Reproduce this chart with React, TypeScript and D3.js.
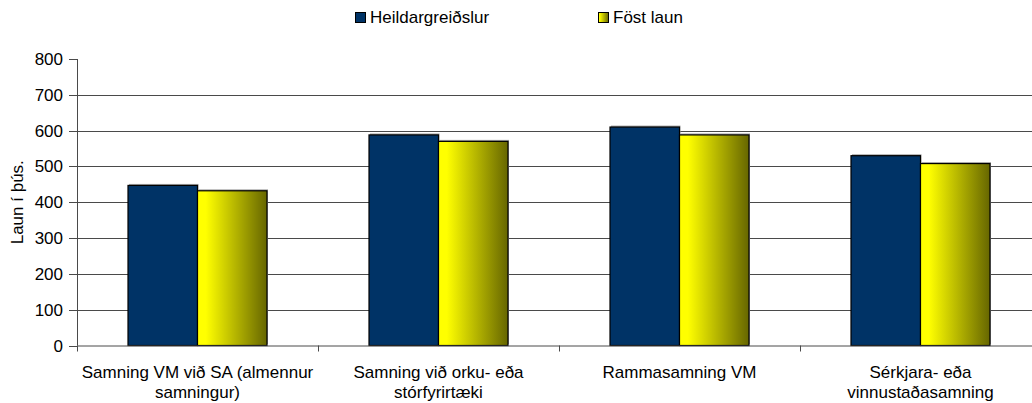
import React from "react";
import * as d3 from "d3";

const categories = [
  ["Samning VM við SA (almennur", "samningur)"],
  ["Samning við orku- eða", "stórfyrirtæki"],
  ["Rammasamning VM"],
  ["Sérkjara- eða", "vinnustaðasamning"],
];
const heildar = [447, 588, 610, 530];
const fost = [432, 570, 588, 508];
const yTicks = [0, 100, 200, 300, 400, 500, 600, 700, 800];
const seriesNames = ["Heildargreiðslur", "Föst laun"];

export default function App() {
  const W = 1032, H = 403;
  const left = 77, right = 1041, top = 59, bottom = 345.5;
  const x = d3.scaleBand<number>().domain(d3.range(categories.length)).range([left, right]).paddingInner(0).paddingOuter(0);
  const y = d3.scaleLinear().domain([0, 800]).range([bottom, top]);
  const bw = 69.5;
  const font = "'Liberation Sans', Arial, sans-serif";
  const fs = 17;
  return (
    <svg width={W} height={H} style={{ position: "absolute", left: 0, top: 0 }} fontFamily={font}>
      <defs>
        <linearGradient id="yg" x1="0" x2="1" y1="0" y2="0">
          <stop offset="0" stopColor="#ffff00" />
          <stop offset="0.12" stopColor="#ffff00" />
          <stop offset="1" stopColor="#666600" />
        </linearGradient>
      </defs>
      <rect width={W} height={H} fill="#fff" />
      {yTicks.filter(t => t > 0 && t < 800).map(t => (
        <line key={t} x1={left} x2={W} y1={Math.round(y(t)) + 0.5} y2={Math.round(y(t)) + 0.5} stroke="#4a4a4a" strokeWidth={1} />
      ))}
      {categories.map((c, i) => {
        const cx = x(i)! + x.bandwidth() / 2;
        const b1x = cx - bw, b2x = cx;
        const yb = y(heildar[i]), yf = y(fost[i]);
        return (
          <g key={i}>
            <rect x={b1x + 1} y={yb - 1.5} width={bw} height={bottom - yb} fill="#aaa" />
            <rect x={b2x + 1} y={yf - 1.5} width={bw} height={bottom - yf} fill="#aaa" />
            <rect x={b1x} y={yb} width={bw} height={bottom - yb} fill="#003366" stroke="#000" strokeWidth={1.2} />
            <rect x={b2x} y={yf} width={bw} height={bottom - yf} fill="url(#yg)" stroke="#000" strokeWidth={1.2} />
          </g>
        );
      })}
      <line x1={left + 0.5} x2={left + 0.5} y1={top} y2={bottom} stroke="#4a4a4a" />
      <line x1={left} x2={W} y1={bottom + 0.5} y2={bottom + 0.5} stroke="#4a4a4a" />
      {yTicks.map(t => (
        <g key={t}>
          <line x1={left - 8} x2={left} y1={Math.round(y(t)) + 0.5} y2={Math.round(y(t)) + 0.5} stroke="#4a4a4a" />
          <text x={left - 14} y={y(t) + 6} fontSize={fs} textAnchor="end" fill="#000">{t}</text>
        </g>
      ))}
      {d3.range(categories.length + 1).map(i => {
        const xx = Math.round(left + i * x.bandwidth()) + 0.5;
        return <line key={i} x1={xx} x2={xx} y1={bottom} y2={bottom + 6} stroke="#4a4a4a" />;
      })}
      {categories.map((c, i) => {
        const cx = x(i)! + x.bandwidth() / 2;
        return (
          <text key={i} x={cx} textAnchor="middle" fontSize={fs} fill="#000">
            {c.map((line, j) => (
              <tspan key={j} x={cx} y={377.5 + j * 20}>{line}</tspan>
            ))}
          </text>
        );
      })}
      <text transform={`translate(23,${(top + bottom) / 2}) rotate(-90)`} textAnchor="middle" fontSize={fs} fill="#000">Laun í þús.</text>
      <rect x={355.5} y={12.5} width={10} height={10} fill="#003366" stroke="#000" />
      <text x={370} y={23} fontSize={fs} fill="#000">{seriesNames[0]}</text>
      <rect x={598.5} y={12.5} width={10} height={10} fill="url(#yg)" stroke="#000" />
      <text x={613} y={23} fontSize={fs} fill="#000">{seriesNames[1]}</text>
    </svg>
  );
}
